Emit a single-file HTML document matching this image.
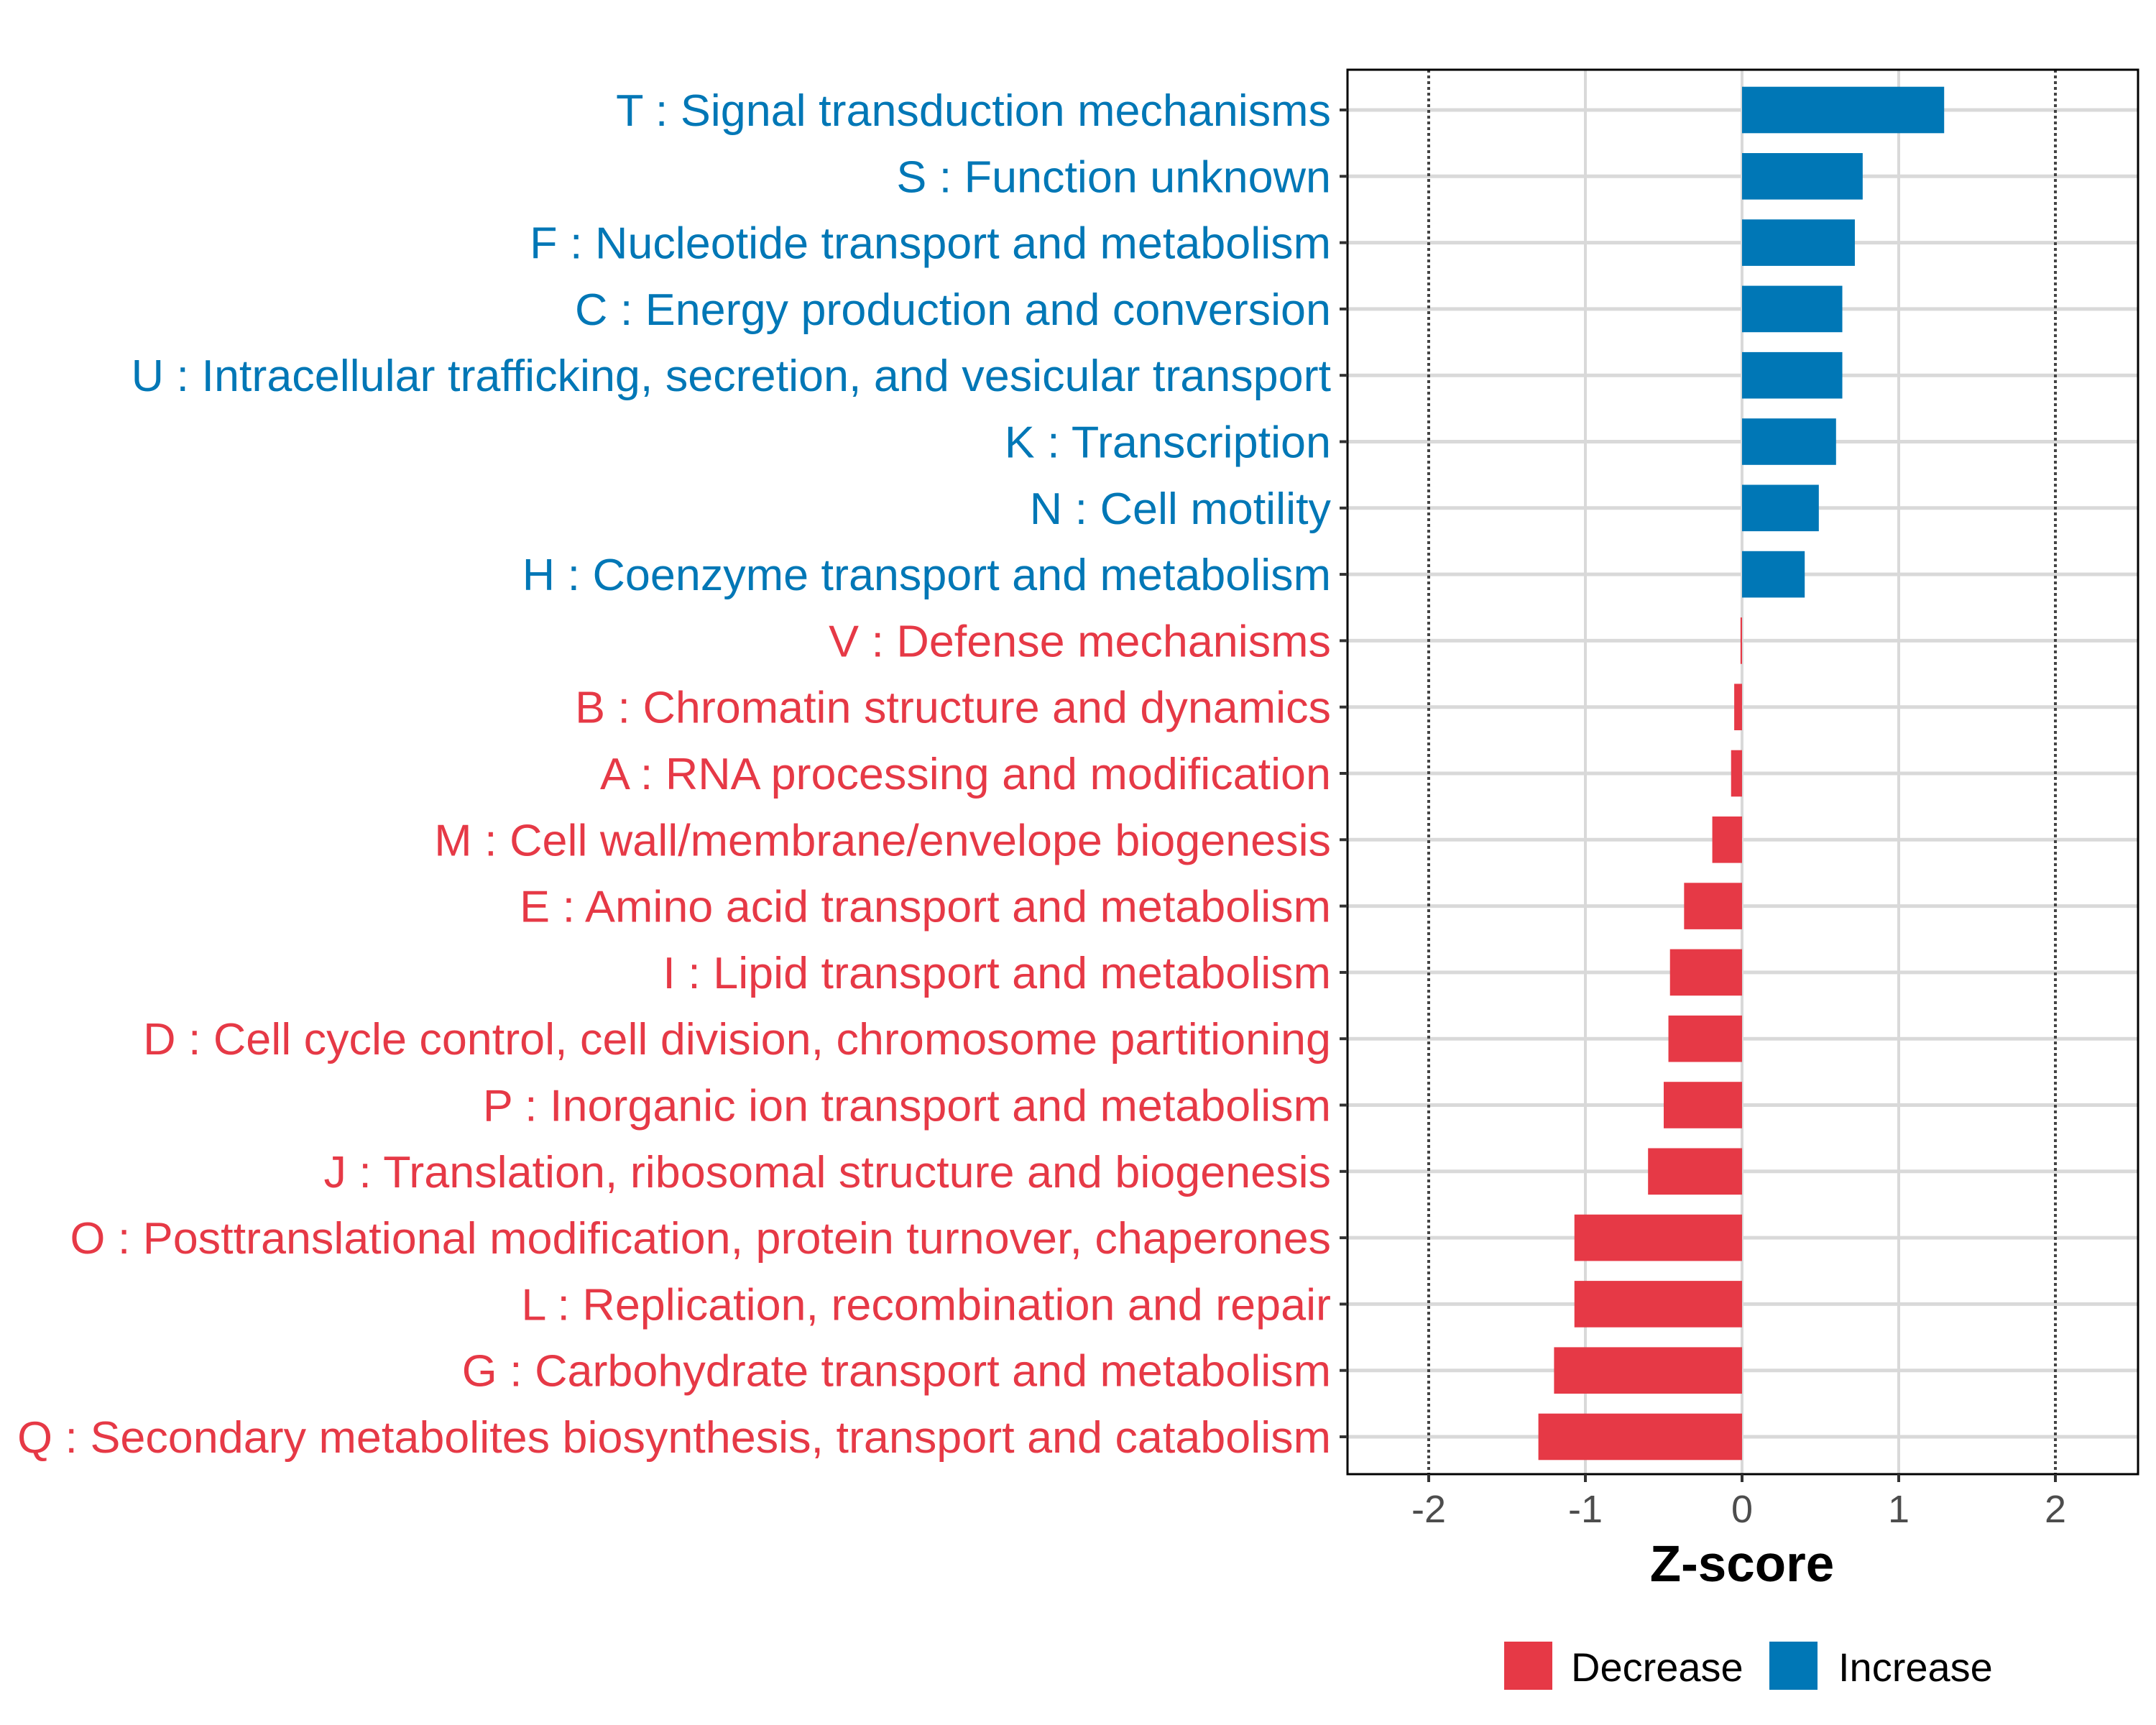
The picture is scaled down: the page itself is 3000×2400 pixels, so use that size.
<!DOCTYPE html>
<html><head><meta charset="utf-8"><style>
html,body{margin:0;padding:0;background:#fff;}
svg{display:block;font-family:"Liberation Sans",Arial,sans-serif;}
</style></head><body>
<svg id="chart" width="3000" height="2400" viewBox="0 0 3000 2400" xmlns="http://www.w3.org/2000/svg"></svg>
<script>
const categories = ["T : Signal transduction mechanisms","S : Function unknown","F : Nucleotide transport and metabolism","C : Energy production and conversion","U : Intracellular trafficking, secretion, and vesicular transport","K : Transcription","N : Cell motility","H : Coenzyme transport and metabolism","V : Defense mechanisms","B : Chromatin structure and dynamics","A : RNA processing and modification","M : Cell wall/membrane/envelope biogenesis","E : Amino acid transport and metabolism","I : Lipid transport and metabolism","D : Cell cycle control, cell division, chromosome partitioning","P : Inorganic ion transport and metabolism","J : Translation, ribosomal structure and biogenesis","O : Posttranslational modification, protein turnover, chaperones","L : Replication, recombination and repair","G : Carbohydrate transport and metabolism","Q : Secondary metabolites biosynthesis, transport and catabolism"];
const zscores = [1.29,0.77,0.72,0.64,0.64,0.60,0.49,0.40,-0.01,-0.05,-0.07,-0.19,-0.37,-0.46,-0.47,-0.50,-0.60,-1.07,-1.07,-1.20,-1.30];
const xTicks = [-2,-1,0,1,2];
const xTickLabels = ["-2","-1","0","1","2"];
const thresholds = [-2,2];
const RED="#E63946", BLUE="#0077B6";
const svg=document.getElementById('chart');
const NS="http://www.w3.org/2000/svg";
const P={l:1875,r:2975,t:97,b:2051};
const x0=2424, unit=218;
function xs(v){return x0+v*unit;}
const yTop=153, step=(1999-153)/(categories.length-1);
function ys(i){return yTop+i*step;}
function mk(tag,attrs){const e=document.createElementNS(NS,tag);for(const k in attrs)e.setAttribute(k,attrs[k]);svg.appendChild(e);return e;}
xTicks.forEach((t,i)=>{
  if(thresholds.includes(t))return;
  const g=mk('line',{x1:xs(t),x2:xs(t),y1:P.t,y2:P.b,stroke:'#d9d9d9','stroke-width':4});
  
  
});
categories.forEach((c,i)=>{
  const g=mk('line',{x1:P.l,x2:P.r,y1:ys(i),y2:ys(i),stroke:'#d9d9d9','stroke-width':5});
  
  
});
thresholds.forEach(t=>{
  const g=mk('line',{x1:xs(t),x2:xs(t),y1:P.t,y2:P.b,stroke:'#444','stroke-width':4,'stroke-dasharray':'4 4'});
  
  
});
const bh=step*0.7;
zscores.forEach((v,i)=>{
  const x=Math.min(xs(0),xs(v)), w=Math.abs(xs(v)-xs(0));
  const b=mk('rect',{x:x,y:ys(i)-bh/2,width:Math.max(w,1.5),height:bh,fill:v>=0?BLUE:RED});
  
  
});
const fr=mk('rect',{x:P.l,y:P.t,width:P.r-P.l,height:P.b-P.t,fill:'none',stroke:'#000','stroke-width':3});


const labels=[];
categories.forEach((c,i)=>{
  const tk=mk('line',{x1:P.l-11,x2:P.l,y1:ys(i),y2:ys(i),stroke:'#333','stroke-width':4});
  
  
  const t=mk('text',{x:1852,y:ys(i)+22,'text-anchor':'end','font-size':62,fill:zscores[i]>=0?BLUE:RED});
  t.textContent=c;
  
  
  labels.push(t);
});
const qw=labels[labels.length-1].getComputedTextLength();
const sc=qw>0?Math.min(1.1,1828/qw):1;
labels.forEach(t=>{t.setAttribute('transform','translate(1852,0) scale('+sc+',1) translate(-1852,0)');});
xTicks.forEach((t,i)=>{
  const tk=mk('line',{x1:xs(t),x2:xs(t),y1:P.b,y2:P.b+11,stroke:'#333','stroke-width':4});
  
  
  const l=mk('text',{x:xs(t),y:2118,'text-anchor':'middle','font-size':54,fill:'#4d4d4d'});
  l.textContent=xTickLabels[i];
  
  
});
const xt=mk('text',{x:xs(0),y:2200,'text-anchor':'middle','font-size':71,'font-weight':'bold',fill:'#000'});
xt.textContent='Z-score';


const lr=mk('rect',{x:2093,y:2284,width:67,height:67,fill:RED});


const lt1=mk('text',{x:2186,y:2339,'font-size':56,fill:'#000'});
lt1.textContent='Decrease';


const lb=mk('rect',{x:2462,y:2284,width:67,height:67,fill:BLUE});


const lt2=mk('text',{x:2558,y:2339,'font-size':56,fill:'#000'});
lt2.textContent='Increase';


</script>
</body></html>
